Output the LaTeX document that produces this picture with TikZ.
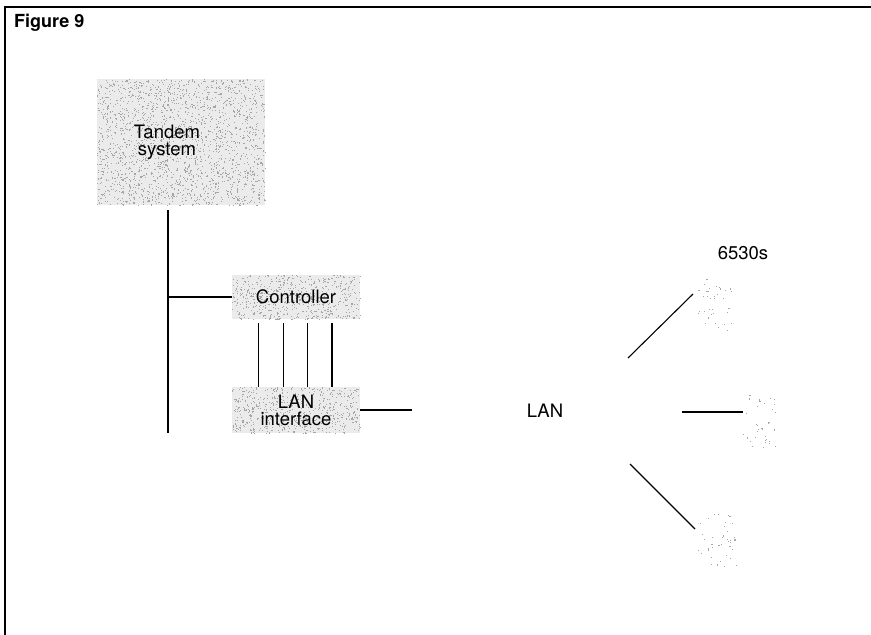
\documentclass[tikz,border=0pt]{standalone}
\usepackage{fontspec}
\setmainfont{TeX Gyre Heros}
\usetikzlibrary{calc,backgrounds}
\newcommand\stipdots[6]{% x0 y0 w h count colour
  \foreach \k in {1,...,#5}{%
    \pgfmathsetmacro\sx{#1+rnd*#3}%
    \pgfmathsetmacro\sy{#2+rnd*#4}%
    \fill[#6] (\sx,\sy) rectangle ++(1.1,1.1);}}
\begin{document}
\begin{tikzpicture}[x=1pt,y=-1pt,
  stip/.style={draw=none, inner sep=0pt},
  lbl/.style={font=\fontsize{18.5}{17}\selectfont, align=center, inner sep=0pt},
  wire/.style={line width=1.1pt, black}]
\pgfmathsetseed{7}
\useasboundingbox (0,0) rectangle (871,635);
% frame
\draw[line width=1.3pt] (5,635) -- (5,7) -- (871,7);
\node[anchor=base west, inner sep=0pt, font=\fontsize{18}{18}\selectfont\bfseries] (title) at (14,27) {Figure 9};
% boxes
\node[stip, minimum width=168pt, minimum height=126pt] (tandem) at (181,142) {};
\node[lbl] (tandemtxt) at (167,142) {Tandem\\system};
\node[stip, minimum width=128pt, minimum height=44pt, lbl] (ctrl) at (296,297) {Controller};
\node[stip, minimum width=128pt, minimum height=46pt, lbl] (lanif) at (296,410) {LAN\\interface};
\node[lbl] (lan) at (545,411) {LAN};
\node[lbl] (lbl6530) at (743,253) {6530s};
% terminals
\node[stip, minimum width=35pt, minimum height=53pt] (t1) at (715,303) {};
\node[stip, minimum width=34pt, minimum height=53pt] (t2) at (760,421) {};
\node[stip, minimum width=40pt, minimum height=55pt] (t3) at (717,540) {};
\begin{scope}[on background layer]
  \fill[black!8] (tandem.north west) rectangle (tandem.south east);
  \fill[black!8] (ctrl.north west) rectangle (ctrl.south east);
  \fill[black!8] (lanif.north west) rectangle (lanif.south east);
  \stipdots{97}{79}{168}{126}{2000}{black!35}
  \stipdots{232}{275}{128}{44}{550}{black!35}
  \stipdots{232}{387}{128}{46}{560}{black!35}
  \stipdots{698}{277}{35}{53}{35}{black!35}
  \stipdots{743}{395}{34}{53}{35}{black!35}
  \stipdots{697}{513}{40}{55}{40}{black!35}
\end{scope}
% trunk
\coordinate (trunkend) at (168,433);
\draw[wire, shorten <=5pt] (tandem.south -| trunkend) -- (trunkend);
\draw[wire] (ctrl.west -| trunkend) -- (ctrl.west);
% controller to LAN interface
\foreach \f in {0.21,0.40,0.59,0.78}{
  \draw[wire, shorten <=4pt] ($(ctrl.south west)!\f!(ctrl.south east)$) -- ($(lanif.north west)!\f!(lanif.north east)$);
}
% LAN interface to LAN
\coordinate (l0) at (412,412);
\draw[wire] (lanif.east) -- (lanif.east -| l0);
% LAN to terminals
\coordinate (a1) at (628,358);
\coordinate (b1) at (693,294);
\draw[wire] (a1) -- (b1);
\coordinate (a2) at (682,412);
\draw[wire] (a2) -- (a2 -| t2.west);
\coordinate (a3) at (630,464);
\coordinate (b3) at (695,529);
\draw[wire] (a3) -- (b3);
\end{tikzpicture}
\end{document}
